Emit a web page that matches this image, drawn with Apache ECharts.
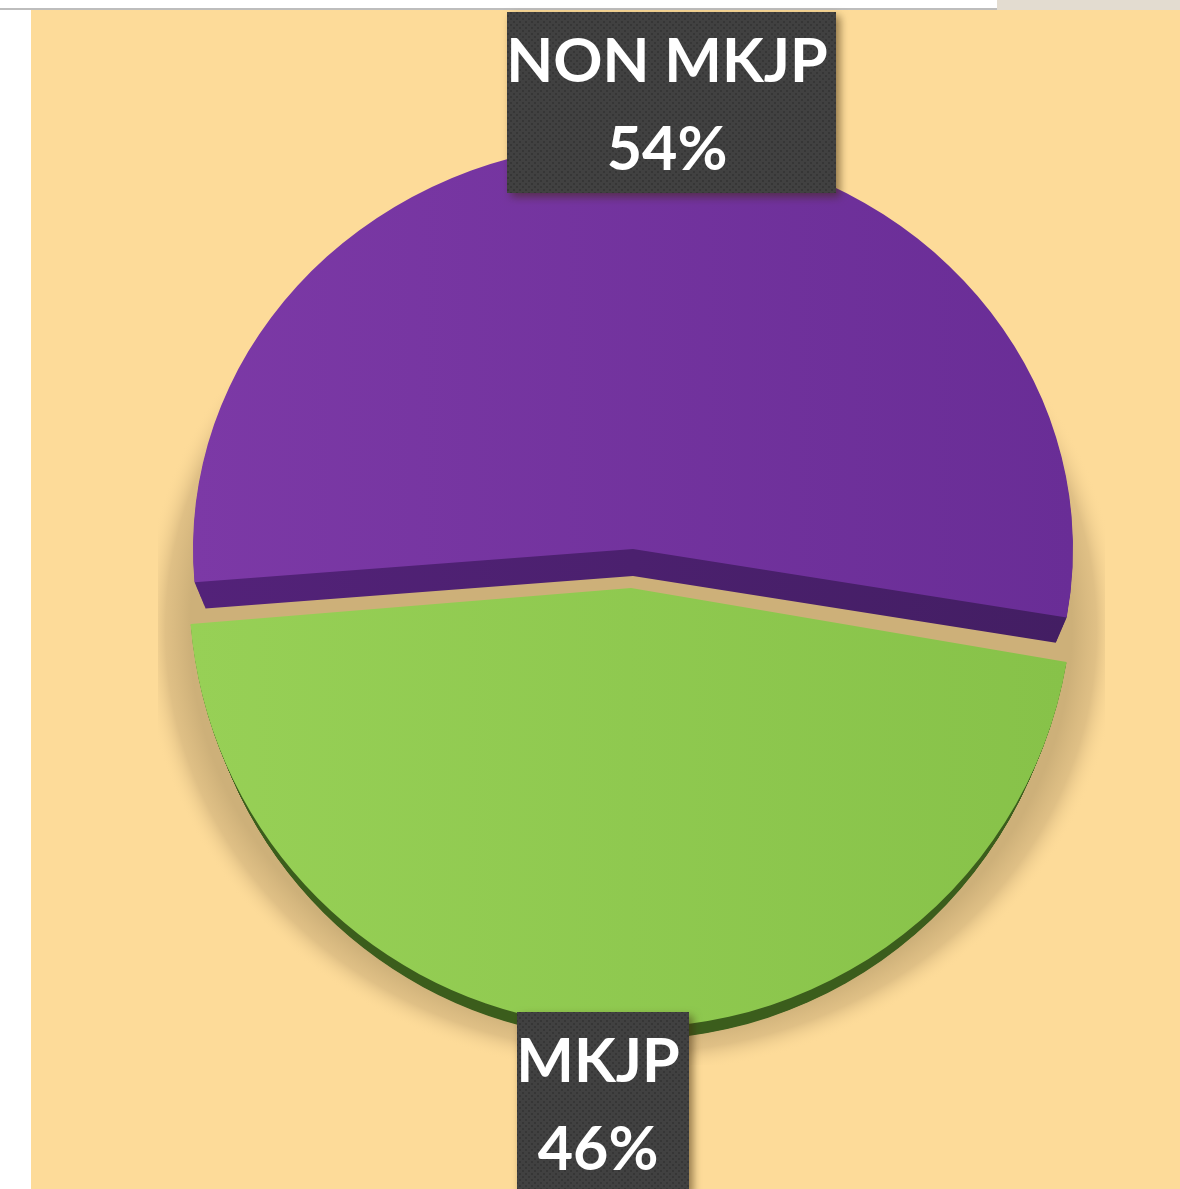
<!DOCTYPE html>
<html><head><meta charset="utf-8">
<style>html,body{margin:0;padding:0;background:#fff}#c{width:1180px;height:1189px}</style>
<script src="https://cdn.jsdelivr.net/npm/echarts@6/dist/echarts.min.js"></script>
</head><body><div id="c"></div>
<script>
const categories = ['NON MKJP', 'MKJP'];
const shares = [54, 46];

const START_DEG = 175.3;
const PAGE_BG = '#fddb99', TAN = '#cdb079';
const LOOK = [
  {cx:633, cy:549, r:440, sy:0.925, top:['#7c39a6','#692d96'], side:['#532279','#431e63'], sideDy:27, sideR:429,
   box:[507,12,329,181], tx:667, ty:[62,150]},
  {cx:631, cy:588, r:442, sy:0.995, top:['#97d056','#87c249'], side:['#3b5d1c','#3b5d1c'], sideDy:20, sideR:434,
   box:[517,1012,172,180], tx:598, ty:[1062,1150]}
];
const hGrad = c => ({type:'linear',x:0,y:0,x2:1,y2:0,colorStops:[{offset:0,color:c[0]},{offset:1,color:c[1]}]});
const rad = d => d*Math.PI/180;
const total = shares.reduce((a,b)=>a+b,0);

// faint dotted texture of the label boxes
const tex = document.createElement('canvas'); tex.width = tex.height = 6;
(function(){const g=tex.getContext('2d');g.fillStyle='#414141';g.fillRect(0,0,6,6);g.fillStyle='#363636';
  g.fillRect(0,0,2,2);g.fillRect(3,3,2,2);})();

function renderItem(params, api){
  const i = params.dataIndex, L = LOOK[i];
  let before = 0; for(let k=0;k<i;k++) before += shares[k];
  const a0 = rad(START_DEG + before/total*360);
  const a1 = rad(START_DEG + (before+api.value(0))/total*360);
  const sector = (dy,r,fill)=>({type:'sector',x:L.cx,y:L.cy+dy,scaleY:L.sy,
    shape:{cx:0,cy:0,r:r,r0:0,startAngle:a0,endAngle:a1,clockwise:true},style:{fill:fill}});
  const font = '700 61px Lato';
  const text = (s,y)=>({type:'text',x:L.tx,y:y,style:{text:s,fill:'#fff',font:font,align:'center',verticalAlign:'middle',
    shadowBlur:3,shadowColor:'rgba(0,0,0,.3)'}});
  // the slice's thickness: dark copies stepped down and inward, giving a slanted side
  const sides = [];
  for(let s=L.sideDy;s>=1;s--){
    sides.push(sector(s, L.r-(L.r-L.sideR)*s/L.sideDy, hGrad(L.side)));
  }
  return {type:'group',children:sides.concat([
    sector(0,L.r,hGrad(L.top)),
    {type:'rect',shape:{x:L.box[0],y:L.box[1],width:L.box[2],height:L.box[3]},
      style:{fill:{image:tex,repeat:'repeat'},shadowBlur:9,shadowOffsetX:4,shadowOffsetY:4,shadowColor:'rgba(60,40,10,.55)'}},
    text(categories[i],L.ty[0]),
    text(api.value(0)+'%',L.ty[1])
  ])};
}

const chart = echarts.init(document.getElementById('c'),null,{renderer:'canvas'});
chart.setOption({
  animation:false,
  backgroundColor:'#fff',
  graphic:[
    {type:'rect',z:-10,shape:{x:31,y:10,width:1149,height:1179},style:{fill:PAGE_BG}},
    {type:'rect',z:-9,shape:{x:0,y:8,width:1180,height:2},style:{fill:'#bdbdbd'}},
    {type:'rect',z:-9,shape:{x:997,y:0,width:183,height:10},style:{fill:'#e3dcd0'}},
    {type:'circle',z:-8,x:631,y:630,scaleY:445/490,shape:{cx:0,cy:0,r:490},
      style:{fill:{type:'radial',x:0.5,y:0.5,r:0.5,colorStops:[
        {offset:0,color:TAN},{offset:0.9,color:TAN},{offset:0.95,color:'rgba(214,183,127,0.75)'},{offset:1,color:'rgba(253,219,153,0)'}]}}},
    {type:'rect',z:-7,shape:{x:31,y:10,width:127,height:1179},style:{fill:PAGE_BG}},
    {type:'rect',z:-7,shape:{x:1105,y:10,width:75,height:1179},style:{fill:PAGE_BG}},
    {type:'rect',z:-7,shape:{x:31,y:1065,width:1149,height:124},style:{fill:PAGE_BG}}
  ],
  series:[{type:'custom',coordinateSystem:'none',renderItem:renderItem,
    data:shares.map((v,i)=>({name:categories[i],value:[v]}))}]
});
</script></body></html>
